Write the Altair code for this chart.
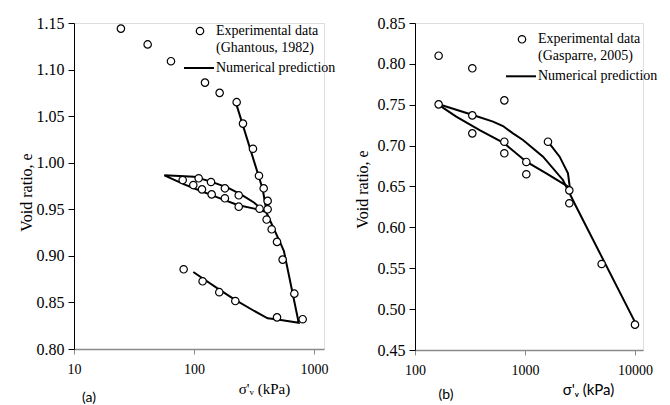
import altair as alt
import pandas as pd

SERIF = "Liberation Serif"
SANS = "Lato"

# ---------- Panel (a): Ghantous, 1982 ----------
a_exp_x = [24.6, 41.1, 64.3, 123.5, 163.6, 226.8, 256, 310, 348, 381, 411, 411, 403,
           444, 492, 548, 686, 805,
           352, 236, 181, 140.4, 116.6, 98.7, 80.5,
           109.4, 138.6, 181, 236,
           492, 221, 162.5, 118, 82]
a_exp_y = [1.144, 1.127, 1.109, 1.086, 1.075, 1.065, 1.042, 1.015, 0.986, 0.9725, 0.959, 0.950, 0.939,
           0.9285, 0.915, 0.896, 0.8594, 0.832,
           0.9506, 0.9528, 0.9618, 0.966, 0.9714, 0.976, 0.9814,
           0.9833, 0.9793, 0.9725, 0.965,
           0.834, 0.8515, 0.861, 0.8727, 0.8856]

a_num_x = [224, 374, 403,
           373, 318, 231, 157, 114, 83, 56.6,
           100.6, 138.6, 191, 246, 318, 373, 403,
           531, 562, 746,
           482, 411, 318, 217, 157, 98.7]
a_num_y = [1.064, 0.9715, 0.947,
           0.948, 0.9507, 0.9546, 0.9628, 0.9696, 0.9768, 0.9865,
           0.985, 0.9797, 0.9733, 0.966, 0.957, 0.949, 0.946,
           0.9124, 0.905, 0.8282,
           0.8319, 0.833, 0.8408, 0.8533, 0.8651, 0.8827]

# ---------- Panel (b): Gasparre, 2005 ----------
b_exp_x = [164, 164, 332, 332, 332, 649, 649, 649, 1028, 1028, 1618, 2530, 2530, 4977, 10000]
b_exp_y = [0.810, 0.7505, 0.7946, 0.737, 0.715, 0.7554, 0.7048, 0.6906, 0.680, 0.665,
           0.7048, 0.6453, 0.6295, 0.5552, 0.481]

b_num_seg = ["A"] * 10 + ["B"] * 7 + ["C"] * 4
b_num_x = [162, 336, 512, 631, 778, 959, 1459, 2213, 2923, 10280,
           162, 237, 387, 645, 1028, 1563, 2547,
           1618, 2065, 2460, 2560]
b_num_y = [0.7509, 0.7375, 0.7293, 0.7240, 0.715, 0.7069, 0.6865, 0.658, 0.6253, 0.481,
           0.7505, 0.7354, 0.719, 0.703, 0.6803, 0.6661, 0.6485,
           0.7048, 0.6865, 0.666, 0.648]

a_yticks = [0.80, 0.85, 0.90, 0.95, 1.00, 1.05, 1.10, 1.15]
a_xticks = [10, 100, 1000]
b_yticks = [0.45, 0.50, 0.55, 0.60, 0.65, 0.70, 0.75, 0.80, 0.85]
b_xticks = [100, 1000, 10000]


def panel(exp_x, exp_y, num_x, num_y, num_seg, xdom, ydom, xticks, yticks,
          w, h, source, leg, xtitle_x, xtitle_font, ytitle_x, ytitle_y, tag, tag_x, tag_y):
    exp_df = pd.DataFrame({"s": exp_x, "e": exp_y})
    num_df = pd.DataFrame({"s": num_x, "e": num_y, "seg": num_seg,
                           "i": list(range(len(num_x)))})
    xenc = alt.X("s:Q", scale=alt.Scale(type="log", domain=xdom, nice=False),
                 axis=alt.Axis(values=xticks, format="d", title="σ'ᵥ (kPa)",
                               titleFont=xtitle_font, titleFontSize=15, titleFontWeight="normal",
                               titleColor="black",
                               titleX=xtitle_x, titleY=39, titleBaseline="middle",
                               titleAlign="center",
                               labelFont=SERIF, labelFontSize=14, labelColor="black",
                               labelPadding=8, tickSize=5, tickColor="#8a8a8a",
                               domainColor="#8a8a8a", domainWidth=1.5, grid=False,
                               labelFlush=False))
    yenc = alt.Y("e:Q", scale=alt.Scale(domain=ydom, nice=False, zero=False),
                 axis=alt.Axis(values=yticks, format=".2f", title="Void ratio, e",
                               titleFont=SERIF, titleFontSize=16, titleFontWeight="normal",
                               titleColor="black", titleAngle=270,
                               titleX=ytitle_x, titleY=ytitle_y, titleBaseline="middle",
                               titleAlign="center",
                               labelFont=SERIF, labelFontSize=16, labelColor="black",
                               labelPadding=4, tickSize=6, tickColor="black",
                               domainColor="black", domainWidth=1, grid=False,
                               labelFlush=False))
    lines = alt.Chart(num_df).mark_line(color="black", strokeWidth=2, clip=False).encode(
        x=xenc, y=yenc, detail="seg:N", order="i:Q")
    pts = alt.Chart(exp_df).mark_point(shape="circle", filled=True, fill="white",
                                       stroke="black", strokeWidth=1.2, size=55,
                                       opacity=1).encode(x="s:Q", y="e:Q")
    one = pd.DataFrame({"k": [0]})
    lx, ly = leg
    leg_pt = alt.Chart(one).mark_point(shape="circle", filled=True, fill="white",
                                       stroke="black", strokeWidth=1.2, size=55,
                                       opacity=1).encode(x=alt.value(lx + 16), y=alt.value(ly))
    leg_t1 = alt.Chart(one).mark_text(text="Experimental data", font=SERIF, fontSize=14,
                                      align="left", baseline="middle", color="black").encode(
        x=alt.value(lx + 32), y=alt.value(ly))
    leg_t2 = alt.Chart(one).mark_text(text=source, font=SERIF, fontSize=14,
                                      align="left", baseline="middle", color="black").encode(
        x=alt.value(lx + 32), y=alt.value(ly + 16.5))
    leg_ln = alt.Chart(one).mark_rule(color="black", strokeWidth=2).encode(
        x=alt.value(lx), x2=alt.value(lx + 30), y=alt.value(ly + 37))
    leg_t3 = alt.Chart(one).mark_text(text="Numerical prediction", font=SERIF, fontSize=14,
                                      align="left", baseline="middle", color="black").encode(
        x=alt.value(lx + 32), y=alt.value(ly + 37))
    tag_t = alt.Chart(one).mark_text(text=tag, font=SANS, fontSize=14, align="center",
                                     baseline="middle", color="black").encode(
        x=alt.value(tag_x), y=alt.value(tag_y))
    return alt.layer(lines, pts, leg_pt, leg_t1, leg_t2, leg_ln, leg_t3, tag_t).properties(
        width=w, height=h)


left = panel(a_exp_x, a_exp_y, a_num_x, a_num_y, ["a"] * len(a_num_x),
             [10, 1212], [0.80, 1.15], a_xticks, a_yticks, 250, 326,
             "(Ghantous, 1982)", (110, 8), 190, SERIF, -48, 169, "(a)", 15, 375)
right = panel(b_exp_x, b_exp_y, b_num_x, b_num_y, b_num_seg,
              [100, 11830], [0.45, 0.85], b_xticks, b_yticks, 228, 327,
              "(Gasparre, 2005)", (91, 16.3), 173, SANS, -53, 166, "(b)", 31, 372)

chart = alt.hconcat(left, right, spacing=17).properties(
    padding={"left": 9, "top": 6, "right": 0, "bottom": 0}
).configure_view(stroke=None).configure(background="white")

chart.save("out.html", embed_options={"renderer": "svg", "actions": False})
